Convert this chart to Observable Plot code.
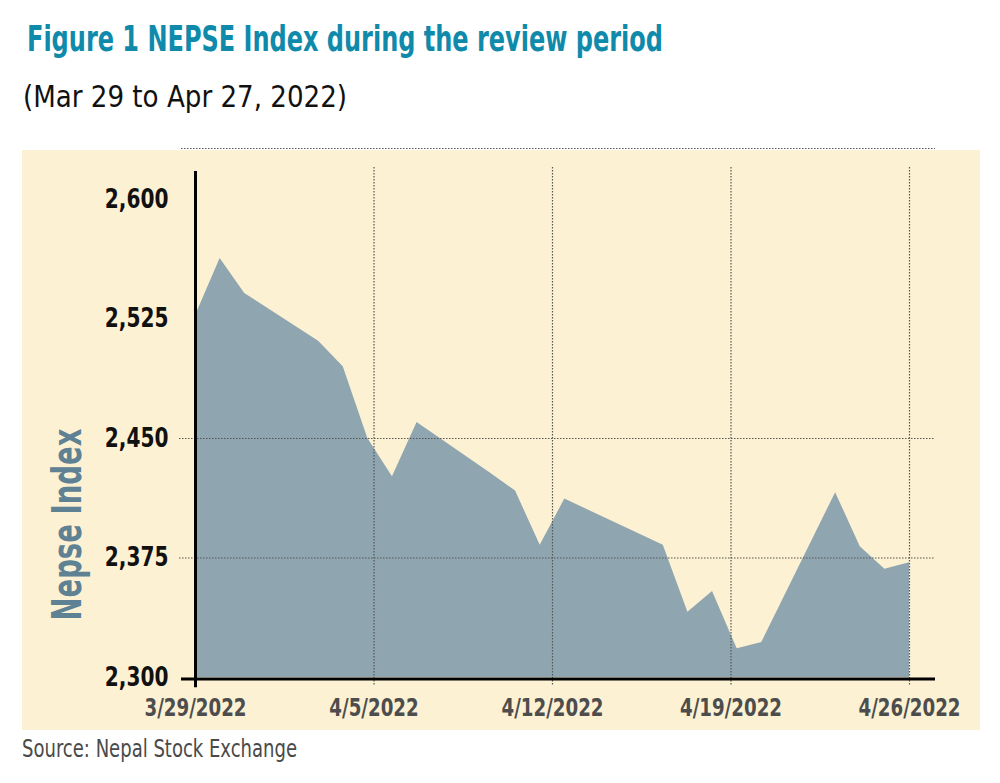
<!DOCTYPE html>
<html>
<head>
<meta charset="utf-8">
<script src="https://cdn.jsdelivr.net/npm/d3@7"></script>
<script src="https://cdn.jsdelivr.net/npm/@observablehq/plot@0.6"></script>
<style>
  body { margin: 0; background: #ffffff; }
  #wrap { position: relative; width: 1000px; height: 783px; overflow: hidden;
          font-family: "Liberation Sans Narrow", "DejaVu Sans Condensed", "Roboto", sans-serif; }
  #panel { position: absolute; left: 22px; top: 150px; width: 958px; height: 580px; background: #fcf1d3; }
  #chart { position: absolute; left: 0; top: 0; }
  .t { position: absolute; white-space: nowrap; line-height: 1; transform-origin: 0 0; }
  #title { left: 27px; top: 22px; font-size: 35px; font-weight: bold; color: #0f8aab; }
  #subtitle { left: 23px; top: 82px; font-size: 30px; color: #111111; }
  #source { left: 22px; top: 736px; font-size: 25px; color: #4a4a4a; }
</style>
</head>
<body>
<div id="wrap">
  <div id="panel"></div>
  <div id="chart"></div>
  <div class="t" id="title">Figure 1 NEPSE Index during the review period</div>
  <div class="t" id="subtitle">(Mar 29 to Apr 27, 2022)</div>
  <div class="t" id="source">Source: Nepal Stock Exchange</div>
</div>
<script>
// ---- data ----
const dates = ["2022-03-29","2022-03-30","2022-03-31","2022-04-03","2022-04-04","2022-04-05",
               "2022-04-06","2022-04-07","2022-04-10","2022-04-11","2022-04-12","2022-04-13",
               "2022-04-17","2022-04-18","2022-04-19","2022-04-20","2022-04-21","2022-04-24",
               "2022-04-25","2022-04-26","2022-04-27"];
const values = [2527, 2563, 2541, 2511, 2495, 2450,
                2426, 2460, 2428, 2417, 2383, 2412,
                2383, 2341, 2354, 2318, 2322, 2416,
                2382, 2368, 2372];
const yTicks = [2300, 2375, 2450, 2525, 2600];
const yGrid = [2375, 2450];
const yFrameTop = 2632;
const xTickDates = ["2022-03-29T00:00Z","2022-04-05T06:00Z","2022-04-12T12:00Z","2022-04-19T18:00Z","2022-04-27T00:00Z"];
const xTickLabels = ["3/29/2022","4/5/2022","4/12/2022","4/19/2022","4/26/2022"];
const yLabel = "Nepse Index";

const rows = dates.map((d, i) => ({date: new Date(d + "T00:00Z"), value: values[i]}));
const xTicks = xTickDates.map(d => new Date(d));
const fmtX = d => xTickLabels[xTicks.findIndex(t => +t === +d)];

const FONT = '"Liberation Sans Narrow", "DejaVu Sans Condensed", Roboto, sans-serif';
const dotted = {stroke: "#555555", strokeWidth: 1.2, strokeDasharray: "1.5,1.5"};
const yLabelAt = 2396; // vertical centre of the rotated axis title

const chart = Plot.plot({
  width: 1000,
  height: 783,
  marginLeft: 195,
  marginRight: 91,
  marginTop: 148,
  marginBottom: 106,
  style: {background: "transparent", fontFamily: FONT, overflow: "visible"},
  x: {type: "utc", domain: [rows[0].date, rows[rows.length - 1].date]},
  y: {domain: [yTicks[0], yFrameTop]},
  marks: [
    Plot.areaY(rows, {x: "date", y1: yTicks[0], y2: "value", fill: "#8fa6b1"}),
    Plot.ruleY(yGrid, {...dotted, insetLeft: -16, insetRight: -26}),
    Plot.ruleY([yFrameTop], {...dotted, insetLeft: -14, insetRight: -26}),
    Plot.ruleX(xTicks.slice(1), {...dotted, y1: 2620, y2: 2295}),
    Plot.ruleX([xTicks[0]], {y1: 2617.5, y2: 2293.5, stroke: "#000", strokeWidth: 3}),
    Plot.ruleY([yTicks[0]], {stroke: "#000", strokeWidth: 3, insetLeft: -14, insetRight: -26, dy: 1.5}),
    Plot.axisY({ticks: yTicks, tickSize: 0, tickPadding: 27, tickFormat: d3.format(","),
                fontSize: 26, fontWeight: "bold", fill: "#111", label: null}),
    Plot.axisX({ticks: xTicks, tickFormat: fmtX, tickSize: 0, tickPadding: 21,
                fontSize: 25, fontWeight: "bold", fill: "#4d4d4d", label: null}),
    Plot.text([yLabel], {text: d => d, x: () => xTicks[0], y: () => yLabelAt, dx: -127,
                rotate: -90, fontSize: 40, fontWeight: "bold", fill: "#5e8194"})
  ]
});
document.getElementById("chart").appendChild(chart);

// condense SVG texts to match the reference's condensed face
function squeeze(sel, k) {
  chart.querySelectorAll(sel).forEach(t => {
    const w = t.getComputedTextLength();
    t.setAttribute("textLength", w * k);
    t.setAttribute("lengthAdjust", "spacingAndGlyphs");
  });
}
squeeze('g[aria-label="y-axis tick label"] text', 0.86);
squeeze('g[aria-label="x-axis tick label"] text', 0.81);
chart.querySelectorAll('g[aria-label="text"] text').forEach(t => {
  t.setAttribute("textLength", 192);
  t.setAttribute("lengthAdjust", "spacingAndGlyphs");
});

// fit HTML text widths to reference
function fitW(id, w) {
  const el = document.getElementById(id);
  const r = el.getBoundingClientRect().width;
  el.style.transform = `scaleX(${w / r})`;
}
fitW("title", 636);
fitW("subtitle", 324);
fitW("source", 275);
</script>
</body>
</html>
